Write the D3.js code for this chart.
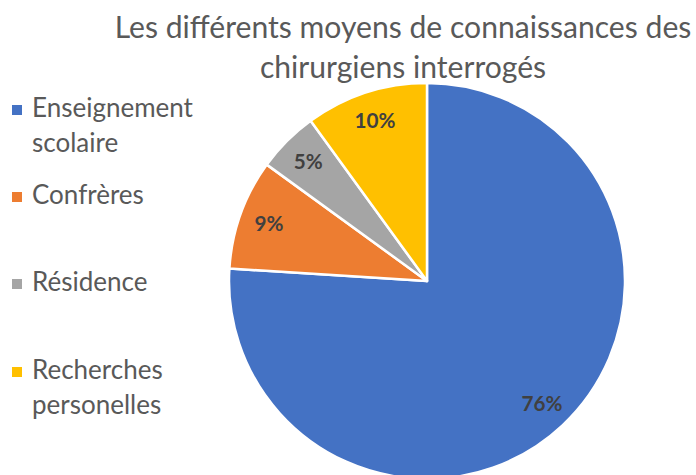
<!DOCTYPE html>
<html><head><meta charset="utf-8">
<script src="https://cdn.jsdelivr.net/npm/d3@7"></script>
<style>html,body{margin:0;padding:0;background:#fff;overflow:hidden}</style>
</head><body>
<svg id="chart" width="696" height="475"></svg>
<script>
const categories = ["Enseignement scolaire", "Confrères", "Résidence", "Recherches personelles"];
const legendLines = [["Enseignement", "scolaire"], ["Confrères"], ["Résidence"], ["Recherches", "personelles"]];
const values = [76, 9, 5, 10];
const labels = ["76%", "9%", "5%", "10%"];
const colors = ["#4472C4", "#ED7D31", "#A5A5A5", "#FFC000"];
const titleLines = ["Les différents moyens de connaissances des", "chirurgiens interrogés"];

const svg = d3.select("#chart");
const font = "Lato, 'Open Sans', sans-serif";

function fitSize(text, weight, base, target) {
  const t = svg.append("text").attr("font-family", font).attr("font-weight", weight)
    .attr("font-size", base).text(text);
  const w = t.node().getComputedTextLength();
  t.remove();
  return base * target / w;
}

// Title
const titleFs = fitSize(titleLines[0], "normal", 24, 577);
svg.append("text").attr("x", 403).attr("y", 38).attr("text-anchor", "middle")
  .attr("font-family", font).attr("font-size", titleFs).attr("fill", "#595959").text(titleLines[0]);
svg.append("text").attr("x", 403).attr("y", 78).attr("text-anchor", "middle")
  .attr("font-family", font).attr("font-size", titleFs).attr("fill", "#595959").text(titleLines[1]);

// Pie
const cx = 427, cy = 281, r = 198;
const pie = d3.pie().sort(null).value(d => d)(values);
const arc = d3.arc().innerRadius(0).outerRadius(r);
const labelArc = d3.arc().innerRadius(168).outerRadius(168);
const labelFs = fitSize("76%", "bold", 18, 41);
const g = svg.append("g").attr("transform", `translate(${cx},${cy})`);
g.selectAll("path").data(pie).join("path")
  .attr("d", arc).attr("fill", (d, i) => colors[i])
  .attr("stroke", "#fff").attr("stroke-width", 2.5).attr("stroke-linejoin", "round");
g.selectAll("text").data(pie).join("text")
  .attr("transform", d => `translate(${labelArc.centroid(d)})`)
  .attr("text-anchor", "middle").attr("dy", "0.35em")
  .attr("font-family", font).attr("font-weight", "bold").attr("font-size", labelFs)
  .attr("fill", "#404040").text((d, i) => labels[i]);

// Legend
const legendY = [117, 204, 291, 379];
const legendFs = fitSize("Enseignement", "normal", 22, 161);
const lg = svg.append("g");
categories.forEach((c, i) => {
  lg.append("rect").attr("x", 12).attr("y", legendY[i] - 12).attr("width", 10).attr("height", 10)
    .attr("fill", colors[i]);
  const tx = lg.append("text").attr("x", 32).attr("y", legendY[i])
    .attr("font-family", font).attr("font-size", legendFs).attr("fill", "#595959");
  legendLines[i].forEach((line, j) => {
    tx.append("tspan").attr("x", 32).attr("y", legendY[i] + j * 35).text(line);
  });
});
</script>
</body></html>
